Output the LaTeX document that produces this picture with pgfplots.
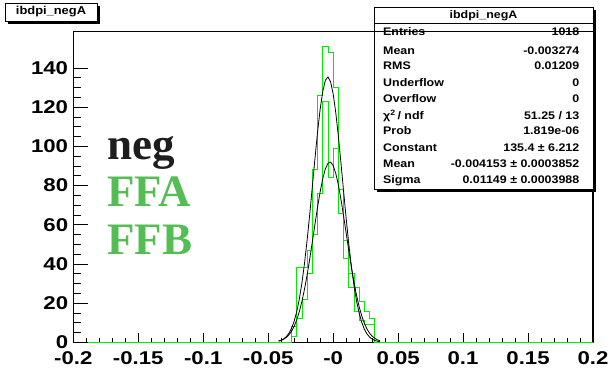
\documentclass[border=0pt]{standalone}
\usepackage{pgfplots}
\pgfplotsset{compat=1.18}
\usepackage{fontspec}
\setmainfont{Liberation Sans}
\newfontfamily\rootf{Liberation Sans}[FakeStretch=1.2]
\newfontfamily\statf{Liberation Sans}[FakeStretch=1.13]
\newfontfamily\legf{Liberation Serif}
\definecolor{hgreen}{RGB}{0,235,0}
\definecolor{lgreen}{RGB}{84,190,84}
\definecolor{lblack}{RGB}{30,30,30}
\pgfplotstableread{
x y
-0.2 0
-0.032 8
-0.028 38
-0.024 38
-0.020 47
-0.016 88
-0.012 126
-0.008 151
-0.004 148
0.000 130
0.004 78
0.008 52
0.012 35
0.016 28
0.020 21
0.024 16
0.028 12
0.032 0
0.2 0
}\histA
\pgfplotstableread{
x y
-0.2 0
-0.032 3
-0.028 12
-0.024 22
-0.020 35
-0.016 55
-0.012 76
-0.008 123
-0.004 84
0.000 99
0.004 66
0.008 43
0.012 28
0.016 16
0.020 11
0.024 9
0.028 9
0.032 0
0.2 0
}\histB
\begin{document}
\begin{tikzpicture}[x=1pt,y=1pt]
\useasboundingbox (0,0) rectangle (616,373);
\begin{axis}[
  at={(73.3pt,30.7pt)}, anchor=south west,
  scale only axis, width=519.7pt, height=310.6pt,
  xmin=-0.2, xmax=0.2, ymin=0, ymax=158.5,
  axis line style={line width=1.2pt},
  tick align=inside, xtick pos=bottom, ytick pos=left,
  xtick={-0.2,-0.15,-0.1,-0.05,0,0.05,0.1,0.15,0.2},
  xticklabels={-0.2,-0.15,-0.1,-0.05,-0,0.05,0.1,0.15,0.2},
  minor x tick num=4,
  major tick length=9pt, minor tick length=4.5pt,
  ytick=\empty,
  every tick/.style={black, line width=0.8pt},
  xticklabel style={font=\rootf\bfseries\fontsize{18.5}{18.5}\selectfont, inner sep=0pt, anchor=north, yshift=-9pt},
  clip=false,
]
\addplot[const plot, hgreen, line width=0.8pt] table {\histA};
\addplot[const plot, hgreen, line width=0.8pt] table {\histB};
\addplot[black, line width=0.8pt] coordinates {
(-0.042,0.60) (-0.040,1.04) (-0.038,1.77) (-0.036,2.91) (-0.034,4.64) (-0.032,7.18) (-0.030,10.78) (-0.028,15.71) (-0.026,22.21) (-0.024,30.47) (-0.022,40.53) (-0.020,52.31) (-0.018,65.51) (-0.016,79.58) (-0.014,93.79) (-0.012,107.2) (-0.010,118.96) (-0.008,128.0) (-0.006,133.7) (-0.004,135.4) (-0.002,133.0) (0,126.8) (0.002,117.3) (0.004,105.3) (0.006,91.6) (0.008,77.4) (0.010,63.4) (0.012,50.4) (0.014,38.9) (0.016,29.1) (0.018,21.1) (0.020,14.9) (0.022,10.2) (0.024,6.73) (0.026,4.33) (0.028,2.70) (0.030,1.63) (0.032,0.96) (0.034,0.55) (0.036,0.30)};
\addplot[black, line width=0.8pt] coordinates {
(-0.042,0.62) (-0.040,1.02) (-0.038,1.63) (-0.036,2.54) (-0.034,3.84) (-0.032,5.68) (-0.030,8.18) (-0.028,11.48) (-0.026,15.71) (-0.024,20.96) (-0.022,27.25) (-0.020,34.53) (-0.018,42.65) (-0.016,51.35) (-0.014,60.25) (-0.012,68.93) (-0.010,76.85) (-0.008,83.51) (-0.006,88.47) (-0.004,91.34) (-0.002,91.93) (0,90.18) (0.002,86.23) (0.004,80.36) (0.006,73.01) (0.008,64.65) (0.010,55.80) (0.012,46.95) (0.014,38.50) (0.016,30.77) (0.018,23.97) (0.020,18.21) (0.022,13.48) (0.024,9.73) (0.026,6.84) (0.028,4.68) (0.030,3.13) (0.032,2.04) (0.034,1.29) (0.036,0.80)};
\end{axis}
\begin{axis}[
  at={(73.3pt,30.7pt)}, anchor=south west,
  scale only axis, width=519.7pt, height=310.6pt,
  xmin=-0.2, xmax=0.2, ymin=0, ymax=158.5,
  axis line style={draw=none},
  tick align=inside, ytick pos=left,
  xtick=\empty,
  ytick={0,20,40,60,80,100,120,140},
  yticklabels={0,20,40,60,80,100,120,140},
  minor y tick num=3,
  major tick length=15pt, minor tick length=7.7pt,
  every tick/.style={black, line width=0.8pt},
  yticklabel style={font=\rootf\bfseries\fontsize{18.5}{18.5}\selectfont, inner sep=0pt, anchor=east, xshift=-5pt},
]
\end{axis}
% legend-like texts
\node[anchor=base west, inner sep=0pt, text=lblack, font=\legf\bfseries\fontsize{45}{45}\selectfont] at (107,213.7) {neg};
\node[anchor=base west, inner sep=0pt, text=lgreen, font=\legf\bfseries\fontsize{45}{45}\selectfont] at (107,166.3) {FFA};
\node[anchor=base west, inner sep=0pt, text=lgreen, font=\legf\bfseries\fontsize{45}{45}\selectfont] at (107,119) {FFB};
% title box
\fill[black] (8,349) rectangle (100,367);
\draw[fill=white, line width=0.8pt] (5,352) rectangle (97,370);
\node[font=\statf\bfseries\fontsize{11.4}{11.4}\selectfont, inner sep=0pt] at (51,361) {ibdpi\_negA};
% stats box
\fill[black] (377,180.7) rectangle (596,362.7);
\draw[fill=white, line width=0.8pt] (374,183.7) rectangle (593,365.7);
\draw[line width=0.8pt] (374,349.5) -- (593,349.5);
\node[font=\statf\bfseries\fontsize{11}{11}\selectfont, inner sep=0pt, anchor=base] at (483.5,354) {ibdpi\_negA};
\begin{scope}[every node/.style={font=\statf\bfseries\fontsize{11}{11}\selectfont, inner sep=0pt}]
\node[anchor=base west] at (383,337.3) {Entries};   \node[anchor=base east] at (579.5,337.3) {1018};
\node[anchor=base west] at (383,318.3) {Mean};      \node[anchor=base east] at (579.5,318.3) {-0.003274};
\node[anchor=base west] at (383,303.3) {RMS};       \node[anchor=base east] at (579.5,303.3) {0.01209};
\node[anchor=base west] at (383,286.3) {Underflow}; \node[anchor=base east] at (579.5,286.3) {0};
\node[anchor=base west] at (383,270) {Overflow};    \node[anchor=base east] at (579.5,270) {0};
\node[anchor=base west] at (383,254) {χ\textsuperscript{2}\,/ ndf}; \node[anchor=base east] at (579.5,254) {51.25 / 13};
\node[anchor=base west] at (383,238.3) {Prob};      \node[anchor=base east] at (579.5,238.3) {1.819e-06};
\node[anchor=base west] at (383,222) {Constant};    \node[anchor=base east] at (579.5,222) {135.4 ± 6.212};
\node[anchor=base west] at (383,205.7) {Mean};      \node[anchor=base east] at (579.5,205.7) {-0.004153 ± 0.0003852};
\node[anchor=base west] at (383,190) {Sigma};       \node[anchor=base east] at (579.5,190) {0.01149 ± 0.0003988};
\end{scope}
% frame top redrawn over the stats box
\draw[line width=1.2pt] (73.3,341.3) -- (593,341.3);
\end{tikzpicture}
\end{document}
